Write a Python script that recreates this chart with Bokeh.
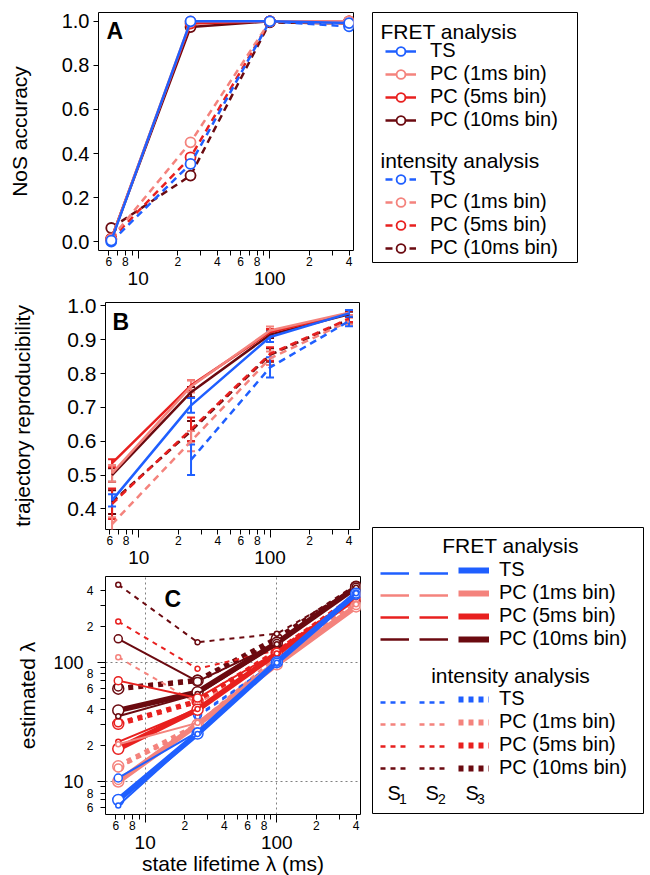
import numpy as np
from bokeh.plotting import figure
from bokeh.models import (Range1d, FixedTicker, LogAxis, Legend, LegendItem, Label,
                          Whisker, TeeHead, ColumnDataSource, PrintfTickFormatter)
from bokeh.layouts import row, column
from bokeh.embed import file_html
from bokeh.resources import INLINE

FONT = "Liberation Sans"
nan = float("nan")

# ---------------- data ----------------
lifetimes = [6.25, 25, 100, 400]           # state lifetime lambda (ms)
method_labels = ["TS", "PC (1ms bin)", "PC (5ms bin)", "PC (10ms bin)"]
method_colors = ["#1f5fff", "#f4837d", "#e8201f", "#6b0a10"]
state_subs = ["1", "2", "3"]

log_small_ticks = [6, 7, 8, 9, 20, 30, 40, 50, 60, 70, 80, 90, 200, 300, 400]
log_small_labels = ["6", "", "8", "", "2", "", "4", "", "6", "", "8", "", "2", "", "4"]
log_big_ticks = [10, 100]
log_big_labels = ["10", "100"]
nos_ticks = [0.0, 0.2, 0.4, 0.6, 0.8, 1.0]
rep_ticks = [0.4, 0.5, 0.6, 0.7, 0.8, 0.9, 1.0]

# A: NoS accuracy
nos_fret_ts = [0.005, 1.0, 1.0, 0.992]
nos_fret_pc1 = [0.010, 1.0, 1.0, 1.0]
nos_fret_pc5 = [0.012, 0.990, 1.0, 1.0]
nos_fret_pc10 = [0.012, 0.974, 1.0, 1.0]
nos_int_ts = [0.0, 0.353, 1.0, 0.977]
nos_int_pc1 = [0.015, 0.451, 1.0, 0.990]
nos_int_pc5 = [0.012, 0.383, 1.0, 0.995]
nos_int_pc10 = [0.062, 0.300, 0.995, 0.990]

# B: trajectory reproducibility (mean, error)
rep_fret_ts = [0.425, 0.706, 0.908, 0.978]
rep_fret_ts_err = [0.018, 0.022, 0.015, 0.010]
rep_fret_pc1 = [0.505, 0.762, 0.927, 0.980]
rep_fret_pc1_err = [0.025, 0.018, 0.012, 0.008]
rep_fret_pc5 = [0.535, 0.765, 0.922, 0.978]
rep_fret_pc5_err = [0.012, 0.015, 0.010, 0.008]
rep_fret_pc10 = [0.500, 0.745, 0.915, 0.975]
rep_fret_pc10_err = [0.020, 0.015, 0.010, 0.008]
rep_int_ts = [nan, 0.545, 0.818, 0.955]
rep_int_ts_err = [nan, 0.045, 0.030, 0.015]
rep_int_pc1 = [0.355, 0.600, 0.845, 0.955]
rep_int_pc1_err = [0.020, 0.030, 0.020, 0.010]
rep_int_pc5 = [0.415, 0.635, 0.858, 0.962]
rep_int_pc5_err = [0.045, 0.035, 0.020, 0.010]
rep_int_pc10 = [0.420, 0.630, 0.855, 0.960]
rep_int_pc10_err = [0.035, 0.030, 0.020, 0.010]

# C: estimated lambda per state S1, S2, S3
est_fret_ts_s1 = [6.3, 25.0, 99, 378]
est_fret_ts_s2 = [10.7, 26.0, 100, 372]
est_fret_ts_s3 = [7.0, 25.2, 100, 375]
est_fret_pc1_s1 = [20.5, 31, 104, 305]
est_fret_pc1_s2 = [10.2, 29.5, 97, 298]
est_fret_pc1_s3 = [10.0, 30, 96, 293]
est_fret_pc5_s1 = [21.5, 40.5, 118, 352]
est_fret_pc5_s2 = [70, 50, 121, 345]
est_fret_pc5_s3 = [18.8, 40, 118, 347]
est_fret_pc10_s1 = [35.2, 54, 141, 420]
est_fret_pc10_s2 = [157, 69, 143, 425]
est_fret_pc10_s3 = [39.4, 56, 145, 425]
est_int_ts_s1 = [nan, 35, 100, 370]
est_int_ts_s2 = [nan, 36, 101, 372]
est_int_ts_s3 = [nan, nan, nan, nan]
est_int_pc1_s1 = [110, 45, 110, 310]
est_int_pc1_s2 = [13.0, 29, 106, 300]
est_int_pc1_s3 = [13.4, 29.5, 107, 302]
est_int_pc5_s1 = [219, 88, 126, 360]
est_int_pc5_s2 = [31, 47, 121, 355]
est_int_pc5_s3 = [30.4, 47, 122, 358]
est_int_pc10_s1 = [446, 147, 173, 418]
est_int_pc10_s2 = [62, 72, 150, 425]
est_int_pc10_s3 = [60, 70, 157, 428]

# ---------------- tables built from the arrays ----------------
nos = {"int": [nos_int_ts, nos_int_pc1, nos_int_pc5, nos_int_pc10],
       "fret": [nos_fret_ts, nos_fret_pc1, nos_fret_pc5, nos_fret_pc10]}
rep = {"int": [(rep_int_ts, rep_int_ts_err), (rep_int_pc1, rep_int_pc1_err),
               (rep_int_pc5, rep_int_pc5_err), (rep_int_pc10, rep_int_pc10_err)],
       "fret": [(rep_fret_ts, rep_fret_ts_err), (rep_fret_pc1, rep_fret_pc1_err),
                (rep_fret_pc5, rep_fret_pc5_err), (rep_fret_pc10, rep_fret_pc10_err)]}
est = {"int": [[est_int_ts_s1, est_int_ts_s2, est_int_ts_s3],
               [est_int_pc1_s1, est_int_pc1_s2, est_int_pc1_s3],
               [est_int_pc5_s1, est_int_pc5_s2, est_int_pc5_s3],
               [est_int_pc10_s1, est_int_pc10_s2, est_int_pc10_s3]],
       "fret": [[est_fret_ts_s1, est_fret_ts_s2, est_fret_ts_s3],
                [est_fret_pc1_s1, est_fret_pc1_s2, est_fret_pc1_s3],
                [est_fret_pc5_s1, est_fret_pc5_s2, est_fret_pc5_s3],
                [est_fret_pc10_s1, est_fret_pc10_s2, est_fret_pc10_s3]]}

DASH_AB = {"fret": "solid", "int": "7 5"}
DASH_C = {"fret": "solid", "int": "5 5"}
STATE_W = [2, 2, 5.5]
STATE_SIZE = [5, 8, 11]
EMPTY = [nan]   # legend-only renderers carry no visible data


# ---------------- helpers ----------------
def base_fig(xr, yr, ytype, fw, fh, mbl, mbr, mbt, mbb):
    p = figure(x_axis_type="log", y_axis_type=ytype, x_range=xr, y_range=yr,
               frame_width=fw, frame_height=fh, min_border_left=mbl, min_border_right=mbr,
               min_border_top=mbt, min_border_bottom=mbb, toolbar_location=None,
               output_backend="svg", background_fill_color="white", border_fill_color="white")
    p.outline_line_color = "black"
    p.outline_line_alpha = 1
    p.outline_line_width = 1
    p.grid.visible = False
    return p


def style_axis(ax, size):
    ax.major_label_text_font = FONT
    ax.major_label_text_font_size = size
    ax.major_label_text_color = "black"
    ax.axis_label_text_font = FONT
    ax.axis_label_text_font_size = "21px"
    ax.axis_label_text_font_style = "normal"
    ax.axis_label_text_color = "black"
    ax.major_tick_line_color = "black"
    ax.minor_tick_line_color = "black"
    ax.major_tick_in = 0
    ax.minor_tick_in = 0
    ax.axis_line_color = None


def log_axes(p, dim, big_size, small_standoff, big_standoff, label=None, label_standoff=0):
    inner = p.xaxis[0] if dim == "x" else p.yaxis[0]
    inner.ticker = FixedTicker(ticks=log_small_ticks, minor_ticks=log_big_ticks)
    inner.major_label_overrides = dict(zip(log_small_ticks, log_small_labels))
    style_axis(inner, "12px")
    inner.major_tick_out = 5
    inner.minor_tick_out = 8
    inner.major_label_standoff = small_standoff
    outer = LogAxis(ticker=FixedTicker(ticks=log_big_ticks, minor_ticks=[]),
                    major_label_overrides=dict(zip(log_big_ticks, log_big_labels)))
    style_axis(outer, big_size)
    outer.major_tick_out = 0
    outer.minor_tick_out = 0
    outer.major_tick_line_color = None
    outer.minor_tick_line_color = None
    outer.major_label_standoff = big_standoff
    if label:
        outer.axis_label = label
        outer.axis_label_standoff = label_standoff
    p.add_layout(outer, "below" if dim == "x" else "left")


def linear_y(p, ticks, size, label, standoff):
    ax = p.yaxis[0]
    ax.ticker = FixedTicker(ticks=ticks, minor_ticks=[])
    ax.formatter = PrintfTickFormatter(format="%.1f")
    style_axis(ax, size)
    ax.major_tick_out = 5
    ax.minor_tick_out = 0
    ax.major_label_standoff = 4
    ax.axis_label = label
    ax.axis_label_standoff = standoff


def panel_letter(p, text, x, y):
    p.add_layout(Label(x=x, y=y, x_units="screen", y_units="screen", text=text,
                       text_font=FONT, text_font_style="bold", text_font_size="23px",
                       text_baseline="middle", text_color="black"))


def legend_box(fw, fh, mbl, mbt):
    f = figure(x_range=Range1d(0, fw), y_range=Range1d(0, fh), frame_width=fw, frame_height=fh,
               min_border_left=mbl, min_border_right=1, min_border_top=mbt, min_border_bottom=1,
               toolbar_location=None, output_backend="svg", x_axis_location=None,
               y_axis_location=None, background_fill_color="white", border_fill_color="white")
    f.outline_line_color = "black"
    f.outline_line_alpha = 1
    f.grid.visible = False
    return f


def make_legend(items, x, y, gw, standoff):
    return Legend(items=items, location=(x, y), padding=0, margin=0, spacing=0,
                  glyph_width=gw, glyph_height=22, label_height=22, label_standoff=standoff,
                  label_text_font=FONT, label_text_font_size="20px", label_text_color="black",
                  border_line_color=None, background_fill_alpha=0)


def header(f, text, x, y, align, size="21px"):
    f.add_layout(Label(x=x, y=y, text=text, text_font=FONT, text_font_size=size,
                       text_align=align, text_baseline="middle", text_color="black"))


# ---------------- panel A ----------------
pA = base_fig(Range1d(5.0, 432), Range1d(-0.04, 1.04), "linear", 255, 238, 98, 10, 12, 40)
log_axes(pA, "x", "19px", -2, 3)
linear_y(pA, nos_ticks, "20px", "NoS accuracy", 28)
for kind in ("int", "fret"):
    for m in (3, 2, 1, 0):
        y = np.array(nos[kind][m], dtype=float)
        pA.line(lifetimes, y, line_color=method_colors[m], line_width=2.5, line_dash=DASH_AB[kind])
        pA.scatter(lifetimes, y, marker="circle", size=10, fill_color="white",
                   line_color=method_colors[m], line_width=1.8)
panel_letter(pA, "A", 8, 220)

# ---------------- panel B ----------------
pB = base_fig(Range1d(5.57, 481), Range1d(0.339, 1.010), "linear", 254, 227, 105, 8, 12, 40)
log_axes(pB, "x", "19px", -2, 3)
linear_y(pB, rep_ticks, "21px", "trajectory reproducibility", 30)
for kind in ("int", "fret"):
    for m in (3, 2, 1, 0):
        vals, errs = rep[kind][m]
        v = np.array(vals, dtype=float)
        e = np.array(errs, dtype=float)
        pB.line(lifetimes, v, line_color=method_colors[m], line_width=2.5, line_dash=DASH_AB[kind])
        ok = ~np.isnan(v)
        src = ColumnDataSource(dict(x=np.array(lifetimes, dtype=float)[ok],
                                    upper=(v + e)[ok], lower=(v - e)[ok]))
        c = method_colors[m]
        pB.add_layout(Whisker(source=src, base="x", upper="upper", lower="lower",
                              dimension="height", line_color=c, line_width=2,
                              upper_head=TeeHead(size=8, line_color=c, line_width=2),
                              lower_head=TeeHead(size=8, line_color=c, line_width=2)))
panel_letter(pB, "B", 7, 208)

# ---------------- panel C ----------------
pC = base_fig(Range1d(5.0, 432), Range1d(5.29, 522), "log", 255, 238, 98, 14, 7, 58)
log_axes(pC, "x", "19px", -2, 3, label="state lifetime \u03bb (ms)", label_standoff=0)
log_axes(pC, "y", "18px", 4, 0, label="estimated \u03bb", label_standoff=11)
pC.xgrid.ticker = FixedTicker(ticks=log_big_ticks, minor_ticks=[])
pC.ygrid.ticker = FixedTicker(ticks=log_big_ticks, minor_ticks=[])
pC.grid.visible = True
pC.grid.grid_line_color = "#808080"
pC.grid.grid_line_dash = "2 3"
pC.grid.grid_line_width = 1
for kind in ("int", "fret"):
    for m in (3, 2, 1, 0):
        for s in (2, 1, 0):
            y = np.array(est[kind][m][s], dtype=float)
            pC.line(lifetimes, y, line_color=method_colors[m], line_width=STATE_W[s],
                    line_dash=DASH_C[kind])
            pC.scatter(lifetimes, y, marker="circle", size=STATE_SIZE[s], fill_color="white",
                       line_color=method_colors[m], line_width=1.5)
panel_letter(pC, "C", 59, 216)

# ---------------- legend for A ----------------
legA = legend_box(205, 250, 9, 12)
for kind, ypos in (("fret", 131), ("int", 3)):
    items = []
    for m in range(4):
        ln = legA.line(x=EMPTY, y=EMPTY, line_color=method_colors[m], line_width=2.5,
                       line_dash=DASH_AB[kind])
        sc = legA.scatter(x=EMPTY, y=EMPTY, marker="circle", size=10, fill_color="white",
                          line_color=method_colors[m], line_width=1.8)
        items.append(LegendItem(label=method_labels[m], renderers=[ln, sc]))
    legA.add_layout(make_legend(items, 13, ypos, 31, 14))
header(legA, "FRET analysis", 8, 231, "left")
header(legA, "intensity analysis", 8, 102, "left")

# ---------------- legend for C ----------------
legC = legend_box(271, 286, 5, 237)
col_x = [8, 47, 86]
for kind, ypos in (("fret", 163), ("int", 34)):
    for s in range(3):
        items = []
        for m in range(4):
            ln = legC.line(x=EMPTY, y=EMPTY, line_color=method_colors[m],
                           line_width=STATE_W[s] + 0.5, line_dash=DASH_C[kind])
            lab = method_labels[m] if s == 2 else " "
            items.append(LegendItem(label=lab, renderers=[ln]))
        legC.add_layout(make_legend(items, col_x[s], ypos, 31 if s == 2 else 29, 10))
header(legC, "FRET analysis", 138, 268, "center")
header(legC, "intensity analysis", 138, 138, "center")
sub_x = [(15, 26.5), (53, 65.5), (93, 104.5)]
for s in range(3):
    header(legC, "S", sub_x[s][0], 21, "left", "20px")
    header(legC, state_subs[s], sub_x[s][1], 15, "left", "14px")

layout = column(row(pA, legA), row(column(pB, pC), legC))
open("out.html", "w").write(file_html(layout, INLINE))
